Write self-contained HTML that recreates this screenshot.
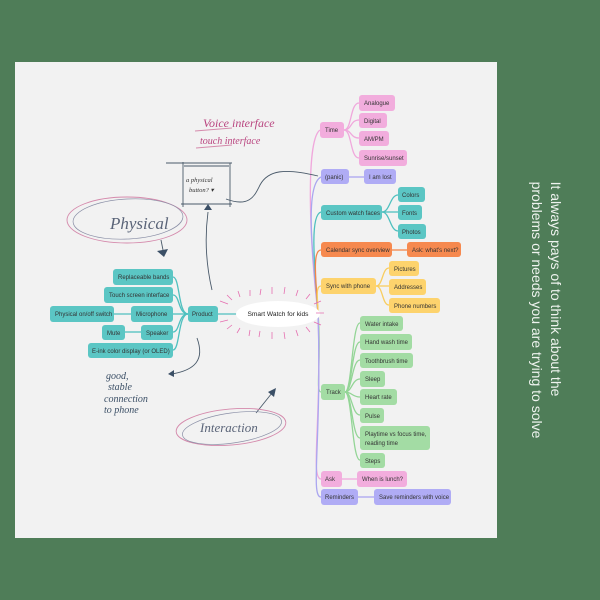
<!DOCTYPE html>
<html><head><style>
body{margin:0;width:600px;height:600px;background:#4f7d58;overflow:hidden;font-family:"Liberation Sans",sans-serif}
svg{position:absolute;left:0;top:0}
.r{position:absolute;left:546px;top:310px;transform:translate(-50%,-50%) rotate(90deg);color:#eef3ee;font-size:14px;line-height:19px;white-space:nowrap;text-align:left}
</style></head><body>
<svg width="600" height="600" viewBox="0 0 600 600" font-family="Liberation Sans, sans-serif" font-size="6">
<rect x="15" y="62" width="482" height="476" fill="#f2f2f2"/>
<g fill="none" stroke-width="1.3">
<path d="M318 313 C310 250 305 140 320 130" stroke="#f0a8dc"/>
<path d="M318 313 C312 250 305 185 321 177" stroke="#aaa6f0"/>
<path d="M318 313 C314 260 310 215 321 212" stroke="#4fc0bf"/>
<path d="M318 313 C316 280 312 250 321 250" stroke="#f3854a"/>
<path d="M318 313 C318 300 315 286 321 286" stroke="#f8cd60"/>
<path d="M318 313 C322 360 315 392 321 392" stroke="#93d596"/>
<path d="M318 313 C322 420 310 479 321 479" stroke="#f0a8dc"/>
<path d="M318 313 C322 440 310 497 321 497" stroke="#aaa6f0"/>
<g stroke="#f0a8dc"><path d="M344 130 C352 130 350 103 359 103"/><path d="M344 130 C352 130 350 120 359 120"/><path d="M344 130 C352 130 350 138 359 138"/><path d="M344 130 C352 130 350 158 359 158"/><path d="M342 479 H357"/></g>
<path d="M349 177 H364" stroke="#aaa6f0"/><path d="M358 497 H374" stroke="#aaa6f0"/>
<g stroke="#4fc0bf"><path d="M382 212 C390 212 390 195 398 195"/><path d="M382 212 H398"/><path d="M382 212 C390 212 390 231 398 231"/>
<path d="M218 314 H240"/><path d="M188 314 C178 314 180 277 173 277"/><path d="M188 314 C178 314 180 295 173 295"/><path d="M188 314 H173"/><path d="M188 314 C178 314 180 332 173 332"/><path d="M188 314 C178 314 180 350 173 350"/><path d="M131 314 H114"/><path d="M141 332 H125"/></g>
<path d="M392 250 H407" stroke="#f3854a"/>
<g stroke="#f8cd60"><path d="M376 286 C383 286 382 268 389 268"/><path d="M376 286 H389"/><path d="M376 286 C383 286 382 305 389 305"/></g>
<g stroke="#93d596"><path d="M345 392 C352 392 352 323 360 323"/><path d="M345 392 C352 392 352 342 360 342"/><path d="M345 392 C352 392 352 360 360 360"/><path d="M345 392 C352 392 352 379 360 379"/><path d="M345 392 C352 392 352 397 360 397"/><path d="M345 392 C352 392 352 415 360 415"/><path d="M345 392 C352 392 352 438 360 438"/><path d="M345 392 C352 392 352 460 360 460"/></g>
</g>
<ellipse cx="278" cy="314" rx="42" ry="13" fill="#fff"/>
<g stroke="#e56fb0" stroke-width="0.8">
<path d="M228 304 l-8 -3 M232 300 l-5 -5 M240 297 l-2 -6 M250 296 l0 -6 M260 295 l1 -6 M272 294 l0 -7 M284 294 l1 -7 M296 296 l2 -6 M306 299 l4 -5 M314 304 l7 -3 M316 313 l8 0 M314 322 l7 3 M306 327 l4 5 M296 330 l2 6 M284 332 l1 7 M272 332 l0 7 M260 331 l-1 6 M250 330 l-1 6 M240 328 l-3 5 M232 325 l-5 4 M228 320 l-8 2"/></g>
<text x="278" y="316" text-anchor="middle" fill="#222" font-size="6.6">Smart Watch for kids</text>
<g>
<g fill="#f2addd"><rect x="320" y="122" width="24" height="16" rx="3"/><rect x="359" y="95" width="36" height="16" rx="3"/><rect x="359" y="113" width="28" height="15" rx="3"/><rect x="359" y="131" width="30" height="15" rx="3"/><rect x="359" y="150" width="48" height="16" rx="3"/><rect x="321" y="471" width="21" height="16" rx="3"/><rect x="357" y="471" width="50" height="16" rx="3"/></g>
<g fill="#b0acf5"><rect x="321" y="169" width="28" height="15" rx="3"/><rect x="364" y="169" width="32" height="15" rx="3"/><rect x="321" y="489" width="37" height="16" rx="3"/><rect x="374" y="489" width="77" height="16" rx="3"/></g>
<g fill="#5bc6c4"><rect x="321" y="205" width="61" height="15" rx="3"/><rect x="398" y="187" width="27" height="15" rx="3"/><rect x="398" y="205" width="24" height="15" rx="3"/><rect x="398" y="224" width="28" height="15" rx="3"/>
<rect x="113" y="269" width="60" height="16" rx="3"/><rect x="104" y="287" width="69" height="16" rx="3"/><rect x="50" y="306" width="64" height="16" rx="3"/><rect x="131" y="306" width="42" height="16" rx="3"/><rect x="102" y="325" width="23" height="15" rx="3"/><rect x="141" y="325" width="32" height="15" rx="3"/><rect x="88" y="343" width="85" height="15" rx="3"/><rect x="188" y="306" width="30" height="16" rx="3"/></g>
<g fill="#f6894f"><rect x="321" y="242" width="71" height="15" rx="3"/><rect x="407" y="242" width="54" height="15" rx="3"/></g>
<g fill="#fdd36d"><rect x="321" y="278" width="55" height="16" rx="3"/><rect x="389" y="261" width="30" height="15" rx="3"/><rect x="389" y="279" width="37" height="16" rx="3"/><rect x="389" y="298" width="51" height="15" rx="3"/></g>
<g fill="#a3dca4"><rect x="321" y="384" width="24" height="16" rx="3"/><rect x="360" y="316" width="43" height="15" rx="3"/><rect x="360" y="334" width="52" height="16" rx="3"/><rect x="360" y="353" width="53" height="15" rx="3"/><rect x="360" y="371" width="25" height="16" rx="3"/><rect x="360" y="389" width="37" height="16" rx="3"/><rect x="360" y="408" width="24" height="15" rx="3"/><rect x="360" y="426" width="70" height="24" rx="3"/><rect x="360" y="453" width="25" height="15" rx="3"/></g>
</g>
<g fill="#333">
<text x="325" y="132">Time</text><text x="364" y="105">Analogue</text><text x="364" y="123">Digital</text><text x="364" y="141">AM/PM</text><text x="364" y="160">Sunrise/sunset</text>
<text x="325" y="179">(panic)</text><text x="369" y="179">I am lost</text>
<text x="326" y="215">Custom watch faces</text><text x="402" y="197">Colors</text><text x="402" y="215">Fonts</text><text x="402" y="234">Photos</text>
<text x="326" y="252">Calendar sync overview</text><text x="412" y="252">Ask: what's next?</text>
<text x="326" y="288">Sync with phone</text><text x="394" y="271">Pictures</text><text x="394" y="289">Addresses</text><text x="394" y="308">Phone numbers</text>
<text x="326" y="394">Track</text><text x="365" y="326">Water intake</text><text x="365" y="344">Hand wash time</text><text x="365" y="363">Toothbrush time</text><text x="365" y="381">Sleep</text><text x="365" y="399">Heart rate</text><text x="365" y="418">Pulse</text><text x="365" y="436">Playtime vs focus time,</text><text x="365" y="445">reading time</text><text x="365" y="463">Steps</text>
<text x="325" y="481">Ask</text><text x="362" y="481">When is lunch?</text><text x="325" y="499">Reminders</text><text x="379" y="499">Save reminders with voice</text>
<text x="118" y="279">Replaceable bands</text><text x="109" y="297">Touch screen interface</text><text x="55" y="316">Physical on/off switch</text><text x="136" y="316">Microphone</text><text x="107" y="335">Mute</text><text x="146" y="335">Speaker</text><text x="92" y="353">E-ink color display (or OLED)</text><text x="192" y="316">Product</text>
</g>
<g fill="none" stroke="#4a5a6a" stroke-width="0.9">
<path d="M166 163 H232 M183 162 V207 M230 163 V207 M181 204 H232 M184 166 H229"/>
<path d="M226 199 C250 208 255 195 260 185 C268 170 285 168 318 176"/>
<path d="M212 290 C205 260 205 235 208 212"/>
<path d="M197 338 C205 360 195 370 172 374"/>
<path d="M161 240 L163 250"/>
<path d="M256 413 L272 393"/>
</g>
<g fill="#3b4f66"><path d="M204 210 l4 -6 l4 6z"/><path d="M157 251 l11 -2 l-4 8z"/><path d="M268 392 l8 -4 l-2 9z"/><path d="M168 374 l6 -4 l0 7z"/></g>
<g fill="none" stroke="#d58aac" stroke-width="0.9">
<ellipse cx="127" cy="220" rx="60" ry="23"/><ellipse cx="231" cy="427" rx="55" ry="18" transform="rotate(-5 231 427)"/>
<path d="M195 131 L232 128 M196 148 L232 145"/></g>
<g fill="none" stroke="#8a8fa6" stroke-width="0.7"><ellipse cx="128" cy="219" rx="55" ry="20" transform="rotate(-3 128 219)"/><ellipse cx="232" cy="428" rx="50" ry="15" transform="rotate(-8 232 428)"/></g>
<g font-family="Liberation Serif, serif" font-style="italic">
<text x="203" y="127" fill="#b9447f" font-size="12">Voice interface</text>
<text x="200" y="144" fill="#b9447f" font-size="10">touch interface</text>
<text x="186" y="182" fill="#333" font-size="6.5">a physical</text><text x="189" y="192" fill="#333" font-size="6.5">button? ▾</text>
<text x="110" y="229" fill="#5a6478" font-size="17">Physical</text>
<text x="200" y="432" fill="#5a6478" font-size="13">Interaction</text>
<g fill="#3b4f66" font-size="10"><text x="106" y="379">good,</text><text x="108" y="390">stable</text><text x="104" y="402">connection</text><text x="104" y="413">to phone</text></g>
</g>
</svg>
<div class="r">It always pays of to think about the<br>problems or needs you are trying to solve</div>
</body></html>
